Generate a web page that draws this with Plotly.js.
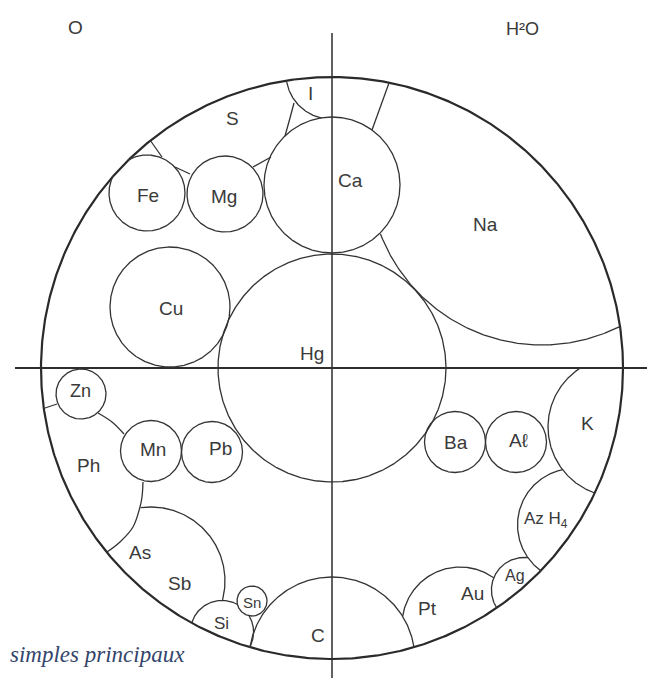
<!DOCTYPE html>
<html>
<head>
<meta charset="utf-8">
<script src="https://cdn.plot.ly/plotly-3.0.1.min.js"></script>
<style>html,body{margin:0;padding:0;background:#fff;}#chart{width:653px;height:678px;}</style>
</head>
<body>
<div id="chart"></div>
<script>
// ---- data (pixel space of the drawing) ----
const bigCircleCenterX = 332;
const bigCircleCenterY = 368;
const bigCircleRadius = 291;

const axisHorizontalY = 368;
const axisHorizontalX = [15, 647];
const axisVerticalX = 332;
const axisVerticalY = [33, 678];

const circleNames = ['Ca','Hg','Fe','Mg','Cu','Zn','Mn','Pb','Ba','Al','Sn','Si','C','PtAu','Ag','AzH4','K','AsSb','Na','I'];
const circleCx    = [332, 332, 147, 225, 170,  81, 151, 212, 455, 516, 252, 222, 332, 460, 524, 574, 618, 151, 542, 331];
const circleCy    = [185, 368, 193, 194, 307, 394, 451, 452, 442, 442, 601, 632, 660, 625, 590, 525, 427, 581, 172,  74];
const circleR     = [ 68, 114,  38,  38,  60,  25, 30.5, 30.5, 30.5, 30.5, 15, 31.6, 83, 58, 32.6, 56.5, 70, 74, 173, 45];

// partial arcs (degrees, screen orientation: 0 = right, 90 = down)
const arcStart = {AsSb: -98, Na: 55, I: 85};
const arcEnd   = {AsSb: 40,  Na: 170, I: 185};
const hiddenBy = {Si:['Sn'], PtAu:['C','Ag'], Ag:['AzH4'], AzH4:['K'], AsSb:['Si'], Na:['Ca','Hg'], I:['Ca']};
const belowAxisOnly = ['K'];

// short boundary lines between regions
const segNa    = [[389,83],[372,130]];
const segSFe   = [[150,140],[162,157]];
const segFeMg  = [[175,167],[190,174]];
const segMgCa  = [[253,167],[271,157]];
const segICa   = [[294,103],[290,118],[285,136]];
const segZnBig = [[45,408],[57,404]];
const segZnMn  = [[98,413],[112,422],[124,434]];
const segMnAs  = [[143,482],[142,497],[140,507],[133,527],[120,542],[107,552]];
const segments = [segNa, segSFe, segFeMg, segMgCa, segICa, segZnBig, segZnMn, segMnAs];

const labelText = ['O','H²O','I','S','Fe','Mg','Ca','Na','Cu','Hg','Zn','Mn','Pb','Ph','As','Sb','Si','Sn','C','Pt','Au','Ag','Az H<sub>4</sub>','K','Ba','Aℓ'];
const labelX    = [75, 522, 310, 232, 148, 224, 350, 485, 171, 312, 80, 153, 220, 88, 140, 179, 221, 252, 318, 427, 472, 515, 546, 587, 456, 518];
const labelY    = [27,  29,  93, 118, 195, 196, 180, 224, 308, 353, 391, 449, 448, 465, 552, 583, 623, 602, 635, 608, 593, 575, 520, 423, 442, 440];
const labelSize = [19, 18, 19, 19, 19, 19, 19, 19, 19, 19, 18, 19, 19, 19, 19, 19, 17, 15, 19, 19, 19, 16, 17, 19, 19, 19];

const captionText = 'simples principaux';
const captionX = 8;
const captionY = 654;

// ---- drawing ----
const LINE = '#333333';
const traces = [];

function idx(name){ return circleNames.indexOf(name); }

function circleTrace(i){
  const name = circleNames[i];
  const a0 = (name in arcStart) ? arcStart[name] : 0;
  const a1 = (name in arcEnd) ? arcEnd[name] : 360;
  const occ = (hiddenBy[name] || []).map(idx);
  const xs = [], ys = [];
  for (let a = a0; a <= a1 + 1e-9; a += 0.5){
    const t = a * Math.PI / 180;
    const px = circleCx[i] + circleR[i] * Math.cos(t);
    const py = circleCy[i] + circleR[i] * Math.sin(t);
    let vis = Math.hypot(px - bigCircleCenterX, py - bigCircleCenterY) <= bigCircleRadius + 0.3;
    for (const j of occ){
      if (Math.hypot(px - circleCx[j], py - circleCy[j]) < circleR[j] - 0.3) vis = false;
    }
    if (belowAxisOnly.includes(name) && py < axisHorizontalY) vis = false;
    if (vis){ xs.push(px); ys.push(py); } else { xs.push(null); ys.push(null); }
  }
  return {type:'scatter', mode:'lines', x:xs, y:ys, hoverinfo:'skip',
          line:{color:LINE, width:1.3}, connectgaps:false};
}

// big circle
(function(){
  const xs = [], ys = [];
  for (let a = 0; a <= 360; a += 0.5){
    const t = a * Math.PI / 180;
    xs.push(bigCircleCenterX + bigCircleRadius * Math.cos(t));
    ys.push(bigCircleCenterY + bigCircleRadius * Math.sin(t));
  }
  traces.push({type:'scatter', mode:'lines', x:xs, y:ys, hoverinfo:'skip', line:{color:'#2a2a2a', width:2.2}});
})();

// axes
traces.push({type:'scatter', mode:'lines', x:axisHorizontalX, y:[axisHorizontalY, axisHorizontalY], hoverinfo:'skip', line:{color:'#2e2e2e', width:1.8}});
traces.push({type:'scatter', mode:'lines', x:[axisVerticalX, axisVerticalX], y:axisVerticalY, hoverinfo:'skip', line:{color:'#2e2e2e', width:1.5}});

for (let i = 0; i < circleNames.length; i++) traces.push(circleTrace(i));

for (const s of segments){
  traces.push({type:'scatter', mode:'lines', x:s.map(p=>p[0]), y:s.map(p=>p[1]), hoverinfo:'skip',
               line:{color:LINE, width:1.3, shape:'spline'}});
}

const annotations = labelText.map((t, k) => ({
  x: labelX[k], y: labelY[k], xref:'x', yref:'y', text:t, showarrow:false,
  xanchor:'center', yanchor:'middle',
  font:{family:'Liberation Sans, Arial, sans-serif', size:labelSize[k], color:'#3a3a3a'}
}));
annotations.push({
  x: captionX, y: captionY, xref:'x', yref:'y', text:captionText, showarrow:false,
  xanchor:'left', yanchor:'middle',
  font:{family:'Liberation Serif, Times New Roman, serif', size:23, color:'#34456b', style:'italic'}
});

const layout = {
  width:653, height:678,
  margin:{l:0, r:0, t:0, b:0},
  paper_bgcolor:'#ffffff', plot_bgcolor:'#ffffff',
  showlegend:false,
  xaxis:{range:[0,653], visible:false, fixedrange:true},
  yaxis:{range:[678,0], visible:false, fixedrange:true},
  annotations: annotations
};

Plotly.newPlot('chart', traces, layout, {displayModeBar:false, staticPlot:true});
</script>
</body>
</html>
